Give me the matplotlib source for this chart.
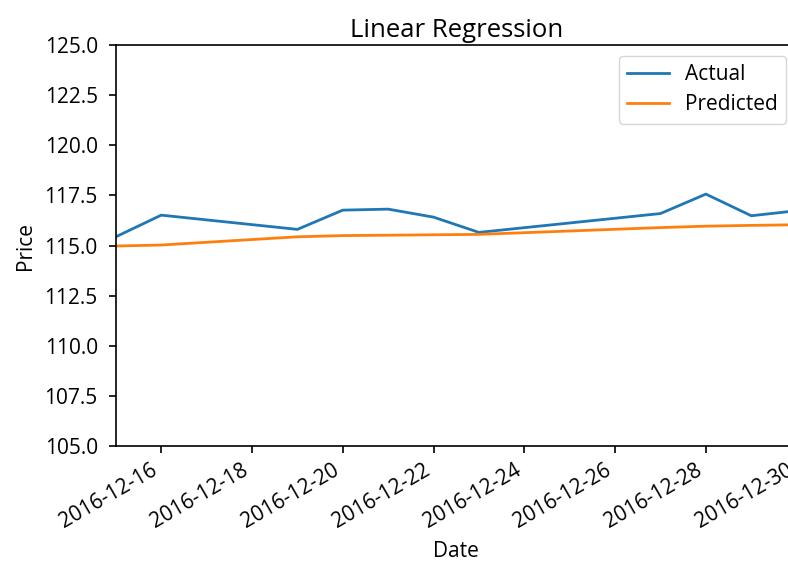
import pandas as pd
import matplotlib
matplotlib.use("Agg")
import matplotlib.pyplot as plt
import matplotlib.dates as mdates

plt.rcParams['font.family'] = ['Open Sans', 'DejaVu Sans']

# datos
fechas = ['2016-12-15', '2016-12-16', '2016-12-19', '2016-12-20', '2016-12-21',
          '2016-12-22', '2016-12-23', '2016-12-27', '2016-12-28', '2016-12-29',
          '2016-12-30']
actual = [115.44, 116.52, 115.81, 116.77, 116.82, 116.42, 115.66, 116.60, 117.57, 116.49, 116.74]
predicho = [114.98, 115.03, 115.44, 115.50, 115.52, 115.54, 115.56, 115.90, 115.97, 116.01, 116.04]

df = pd.DataFrame({'Actual': actual, 'Predicted': predicho}, index=pd.to_datetime(fechas))

fig = plt.figure(figsize=(7.88, 5.64), dpi=100)
ax = fig.add_axes([0.147, 0.209, 0.864, 0.711])
ax.plot(df.index, df['Actual'], color='#1f77b4', lw=2, label='Actual')
ax.plot(df.index, df['Predicted'], color='#ff7f0e', lw=2, label='Predicted')

ax.set_xlim(df.index[0], df.index[-1])
ax.set_ylim(105, 125)
ax.set_yticks([105, 107.5, 110, 112.5, 115, 117.5, 120, 122.5, 125])
ax.yaxis.set_major_formatter(matplotlib.ticker.FormatStrFormatter('%.1f'))
ax.xaxis.set_major_locator(mdates.DayLocator(bymonthday=range(16, 31, 2)))
ax.xaxis.set_major_formatter(mdates.DateFormatter('%Y-%m-%d'))
plt.setp(ax.get_xticklabels(), rotation=30, ha='right')
ax.tick_params(labelsize=15, length=5, width=1.2)
ax.tick_params(axis='y', pad=8)
ax.tick_params(axis='x', pad=5)
for s in ax.spines.values():
    s.set_linewidth(1.2)

ax.set_title('Linear Regression', fontsize=18.5, pad=6)
ax.set_xlabel('Date', fontsize=15, labelpad=6)
ax.set_ylabel('Price', fontsize=15, labelpad=6)
ax.legend(loc='upper right', fontsize=15, handlelength=2, borderpad=0.4,
          labelspacing=0.45)

fig.savefig('out.png', dpi=100)
